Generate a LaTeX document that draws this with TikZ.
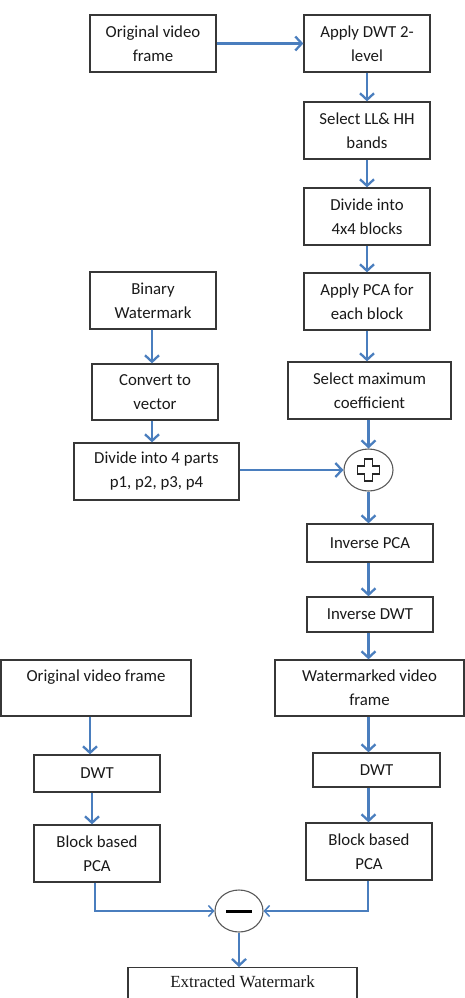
\documentclass[tikz,border=0pt]{standalone}
\usepackage{fontspec}
\setmainfont{Carlito}
\newfontfamily\timesfont{Liberation Serif}
\usetikzlibrary{arrows.meta,shapes.geometric,calc}
\definecolor{arrblue}{RGB}{74,126,190}
\definecolor{boxline}{RGB}{55,55,55}
\definecolor{circline}{RGB}{90,90,90}
\tikzset{
  stepbox/.style={draw=boxline, line width=1.3pt, rectangle, align=center, inner sep=0pt,
    font=\fontsize{16.8}{24}\selectfont, text=black!90},
  opnode/.style={draw=circline, line width=1.1pt, ellipse, inner sep=0pt},
  arr/.style={draw=arrblue, line width=2.3pt, -{Straight Barb[length=6.5pt,width=14pt]}},
  thinarr/.style={draw=arrblue, line width=1.5pt, -{Straight Barb[length=5pt,width=11pt]}},
}
\begin{document}
\begin{tikzpicture}[x=1pt,y=-1pt]
\useasboundingbox (0,0) rectangle (465,998);
\clip (0,0) rectangle (465,998);
% embedding column
\node[stepbox, minimum width=126, minimum height=57] (b1) at (153,43.5) {Original video\\frame};
\node[stepbox, minimum width=126, minimum height=57] (b2) at (367,43.5) {Apply DWT 2-\\level};
\node[stepbox, minimum width=126, minimum height=57] (b3) at (367,130.5) {Select LL\& HH\\bands};
\node[stepbox, minimum width=126, minimum height=57] (b4) at (367,216.5) {Divide into\\4x4 blocks};
\node[stepbox, minimum width=126, minimum height=57] (b5) at (367,301.5) {Apply PCA for\\each block};
\node[stepbox, minimum width=163, minimum height=57] (b6) at (369.5,390.5) {Select maximum\\coefficient};
\node[opnode, minimum width=49, minimum height=42] (plus) at (368.5,470) {};
% watermark column
\node[stepbox, minimum width=126, minimum height=57] (bw) at (153,300.5) {Binary\\Watermark};
\node[stepbox, minimum width=126, minimum height=56] (cv) at (155,392) {Convert to\\vector};
\node[stepbox, minimum width=165, minimum height=57] (d4) at (156.5,471.5) {Divide into 4 parts\\p1, p2, p3, p4};
% after embedding
\node[stepbox, minimum width=126, minimum height=38] (ipca) at (370,543) {Inverse PCA};
\node[stepbox, minimum width=126, minimum height=35] (idwt) at (370,614.5) {Inverse DWT};
\node[stepbox, minimum width=189, minimum height=56] (wm) at (369.5,688) {Watermarked video\\frame};
% extraction
\node[stepbox, minimum width=190, minimum height=56] (lo) at (96,688) {Original video frame\\\mbox{}};
\node[stepbox, minimum width=126, minimum height=37] (dl) at (97,773.5) {DWT};
\node[stepbox, minimum width=127, minimum height=34] (dr) at (376.5,770) {DWT};
\node[stepbox, minimum width=126, minimum height=57] (bl) at (97,853.5) {Block based\\PCA};
\node[stepbox, minimum width=126, minimum height=57] (br) at (369,851.5) {Block based\\PCA};
\node[opnode, minimum width=48, minimum height=42] (minus) at (239,911) {};
\node[stepbox, anchor=north, minimum width=229, minimum height=44, text height=12pt, text depth=16pt,
  font=\timesfont\fontsize{17}{20}\selectfont] (ew) at (242.5,967) {Extracted Watermark};
% plus sign (hollow cross)
\draw[black!85, line width=1.1pt]
  ($(plus.center)+(-4,-11)$) -- ($(plus.center)+(4,-11)$) -- ($(plus.center)+(4,-4)$)
  -- ($(plus.center)+(11,-4)$) -- ($(plus.center)+(11,4)$) -- ($(plus.center)+(4,4)$)
  -- ($(plus.center)+(4,11)$) -- ($(plus.center)+(-4,11)$) -- ($(plus.center)+(-4,4)$)
  -- ($(plus.center)+(-11,4)$) -- ($(plus.center)+(-11,-4)$) -- ($(plus.center)+(-4,-4)$) -- cycle;
% minus sign
\draw[black, line width=3pt] ($(minus.center)+(-13,0)$) -- ($(minus.center)+(13,0)$);
% connectors
\draw[arr] (b1.east) -- (b2.west);
\draw[arr] (b2) -- (b3);
\draw[arr] (b3) -- (b4);
\draw[arr] (b4) -- (b5);
\draw[arr] (b5.south) -- (b5.south |- b6.north);
\draw[arr] (b6.south -| plus) -- (plus.north);
\draw[arr] ([xshift=-1]bw.south) -- ([xshift=-1]bw.south |- cv.north);
\draw[arr] ([xshift=-3]cv.south) -- ([xshift=-3]cv.south |- d4.north);
\draw[arr] (d4.east |- plus.west) -- (plus.west);
\draw[arr] (plus.south) -- (plus.south |- ipca.north);
\draw[arr] (ipca.south -| plus) -- (plus |- idwt.north);
\draw[arr] (idwt.south -| plus) -- (plus |- wm.north);
\draw[arr] (wm.south -| plus) -- (plus |- dr.north);
\draw[arr] (dr.south -| plus) -- (plus |- br.north);
\draw[arr] ([xshift=-6]lo.south) -- ([xshift=-6]lo.south |- dl.north);
\draw[arr] ([xshift=-5]dl.south) -- ([xshift=-5]dl.south |- bl.north);
\draw[thinarr] ([xshift=-2]bl.south) |- (minus.west);
\draw[thinarr] ([xshift=-1]br.south) |- (minus.east);
\draw[arr] (minus.south) -- (minus.south |- ew.north);
\end{tikzpicture}
\end{document}
